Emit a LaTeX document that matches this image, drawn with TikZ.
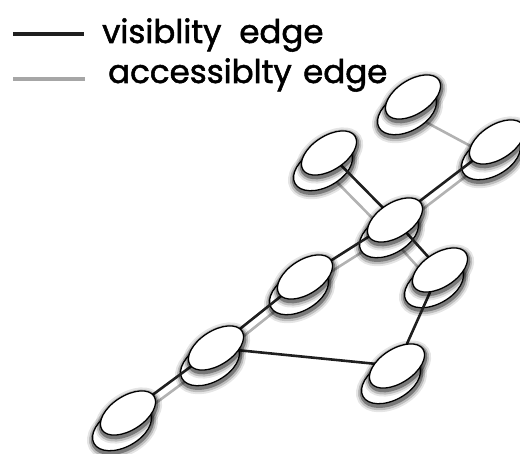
\documentclass[tikz,border=0pt]{standalone}
\usepackage{fontspec}
\setmainfont{Poppins}[FakeBold=1.6]
\usetikzlibrary{shapes.geometric}
\pgfdeclarelayer{glayer}
\pgfdeclarelayer{lolayer}
\pgfdeclarelayer{blayer}
\pgfsetlayers{glayer,lolayer,blayer,main}
\begin{document}
\begin{tikzpicture}[x=1pt,y=-1pt,
  discbase/.style={ellipse, draw=black, line width=1.3pt, fill=white,
    inner sep=0pt, outer sep=0pt,
    preaction={draw=black, draw opacity=0.10, line width=12pt,
      transform canvas={shift={(0.5pt,-2.5pt)}}},
    preaction={draw=black, draw opacity=0.18, line width=8pt,
      transform canvas={shift={(0.5pt,-2.5pt)}}},
    preaction={draw=black, draw opacity=0.35, line width=4.5pt,
      transform canvas={shift={(0.5pt,-2pt)}}}},
  updisc/.style={discbase, minimum width=62pt, minimum height=34pt, rotate=33},
  lodisc/.style={discbase, minimum width=64pt, minimum height=38pt, rotate=29},
  vis/.style={line width=2.6pt, black!88},
  acc/.style={line width=2.6pt, black!30},
  lbl/.style={anchor=base west, inner sep=0pt, font=\fontsize{32.5}{36}\selectfont}]
\useasboundingbox (0,0) rectangle (520,454);

% legend
\coordinate (v1) at (13,34);
\coordinate (v2) at (84,34);
\coordinate (a1) at (13,79);
\coordinate (a2) at (85,79);
\draw[vis, line width=3.8pt] (v1) -- (v2);
\draw[acc, line width=3.8pt, black!35] (a1) -- (a2);
\node[lbl] (vt) at (102,43) {visiblity\hspace{0.55em}edge};
\node[lbl] (at) at (108,83) {accessiblty\hspace{0.35em}edge};

% graph nodes (upper disc and lower disc)
\foreach \n/\x/\y in {t/413/97, r/497/142, l/329/153, c/395/220, rm/440/270,
                      m/305/277, br/397/366, lm/216/348, bl/128/413}{
  \begin{pgfonlayer}{lolayer}
    \node[lodisc] (\n lo) at (\x-6,\y+15) {};
  \end{pgfonlayer}
  \node[updisc] (\n) at (\x,\y) {};
}

% accessibility edges
\begin{pgfonlayer}{glayer}
\draw[acc] (tlo) -- (rlo);
\draw[acc] (llo) -- (clo);
\draw[acc] (clo) -- (rlo);
\draw[acc] (clo) -- (rmlo);
\draw[acc] (clo) -- (mlo);
\draw[acc] (mlo) -- (lmlo);
\draw[acc] (lmlo) -- (bllo);
\end{pgfonlayer}

% visibility edges
\begin{pgfonlayer}{blayer}
\draw[vis] (l) -- (c);
\draw[vis] (c) -- (r);
\draw[vis] (c) -- (rm);
\draw[vis] (c) -- (m);
\draw[vis] (m) -- (lm);
\draw[vis] (lm) -- (bl);
\draw[vis] (lm) -- (br);
\draw[vis] (rm) -- (br);
\end{pgfonlayer}
\end{tikzpicture}
\end{document}
